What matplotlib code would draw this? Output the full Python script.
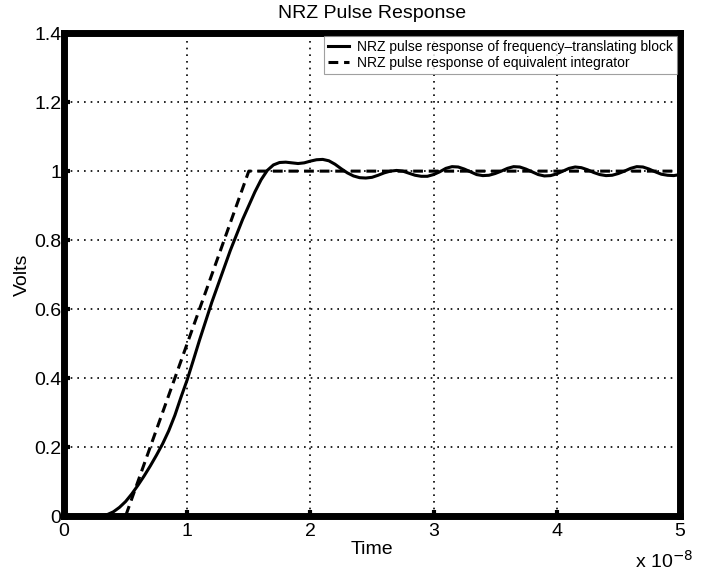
import matplotlib
matplotlib.use("Agg")
import matplotlib.pyplot as plt

plt.rcParams['font.family'] = ['Liberation Sans', 'DejaVu Sans']

# time in units of 1e-8 s
t_block = [0.00, 0.30, 0.35, 0.40, 0.45, 0.50, 0.55, 0.60, 0.65, 0.70, 0.75, 0.80, 0.85, 0.90, 0.95,
           1.00, 1.05, 1.10, 1.15, 1.20, 1.25, 1.30, 1.35, 1.40, 1.45, 1.50, 1.55, 1.60, 1.65,
           1.70, 1.75, 1.80, 1.85, 1.90, 1.95, 2.00, 2.05, 2.10, 2.15, 2.20, 2.25, 2.30, 2.35,
           2.40, 2.45, 2.50, 2.55, 2.60, 2.65, 2.70, 2.75, 2.80, 2.85, 2.90, 2.95, 3.00, 3.05,
           3.10, 3.15, 3.20, 3.25, 3.30, 3.35, 3.40, 3.45, 3.50, 3.55, 3.60, 3.65, 3.70, 3.75,
           3.80, 3.85, 3.90, 3.95, 4.00, 4.05, 4.10, 4.15, 4.20, 4.25, 4.30, 4.35, 4.40, 4.45,
           4.50, 4.55, 4.60, 4.65, 4.70, 4.75, 4.80, 4.85, 4.90, 4.95, 5.00]
v_block = [0.000, 0.000, 0.004, 0.012, 0.025, 0.042, 0.064, 0.089, 0.116, 0.145, 0.176, 0.209, 0.247, 0.292, 0.345,
           0.395, 0.452, 0.510, 0.565, 0.620, 0.670, 0.720, 0.770, 0.815, 0.860, 0.900, 0.940, 0.975, 1.002,
           1.018, 1.025, 1.026, 1.024, 1.022, 1.024, 1.029, 1.033, 1.034, 1.030, 1.020, 1.007, 0.995, 0.986,
           0.981, 0.980, 0.982, 0.988, 0.995, 1.000, 1.002, 1.000, 0.994, 0.988, 0.985, 0.985, 0.990, 0.998,
           1.008, 1.013, 1.012, 1.006, 0.998, 0.990, 0.987, 0.988, 0.993, 1.000, 1.008, 1.013, 1.012, 1.006,
           0.998, 0.990, 0.986, 0.987, 0.992, 1.000, 1.008, 1.012, 1.010, 1.004, 0.996, 0.990, 0.987, 0.988,
           0.993, 1.000, 1.008, 1.013, 1.012, 1.006, 0.998, 0.991, 0.988, 0.987, 0.990]

t_integ = [0.0, 0.5, 1.5, 5.0]
v_integ = [0.0, 0.0, 1.0, 1.0]

xticks = [0, 1, 2, 3, 4, 5]
yticks = [0, 0.2, 0.4, 0.6, 0.8, 1.0, 1.2, 1.4]
ytick_labels = ['0', '0.2', '0.4', '0.6', '0.8', '1', '1.2', '1.4']

fig = plt.figure(figsize=(7.06, 5.72), dpi=100)
ax = fig.add_axes([0.0907, 0.0979, 0.8723, 0.8441])

ax.plot(t_block, v_block, color='black', lw=2.2, label='NRZ pulse response of frequency\u2013translating block')
ax.plot(t_integ, v_integ, color='black', lw=2.2, ls=(0, (3.2, 1.9)), label='NRZ pulse response of equivalent integrator')

ax.set_xlim(0, 5)
ax.set_ylim(0, 1.4)
ax.set_xticks(xticks)
ax.set_xticklabels([str(v) for v in xticks])
ax.set_yticks(yticks)
ax.set_yticklabels(ytick_labels)
ax.grid(True, color='black', ls=(0, (1, 3)), lw=1.2)
for s in ax.spines.values():
    s.set_linewidth(5)
ax.tick_params(direction='in', length=4, width=3, labelsize=14)
ax.tick_params(axis='x', pad=5)
ax.tick_params(axis='y', pad=2)

ax.set_title('NRZ Pulse Response', fontsize=14, pad=11)
ax.set_xlabel('Time', fontsize=14, labelpad=1)
ax.set_ylabel('Volts', fontsize=14, labelpad=2)
fig.text(0.982, 0.0, 'x 10$^{-8}$', ha='right', va='bottom', fontsize=14)

leg = ax.legend(loc='upper right', fontsize=10, frameon=True, fancybox=False,
                handlelength=1.5, handletextpad=0.6, borderpad=0.3, labelspacing=0.15,
                borderaxespad=0.2)
leg.get_frame().set_edgecolor('#888888')
leg.get_frame().set_linewidth(0.8)

fig.savefig('out.png', dpi=100)
